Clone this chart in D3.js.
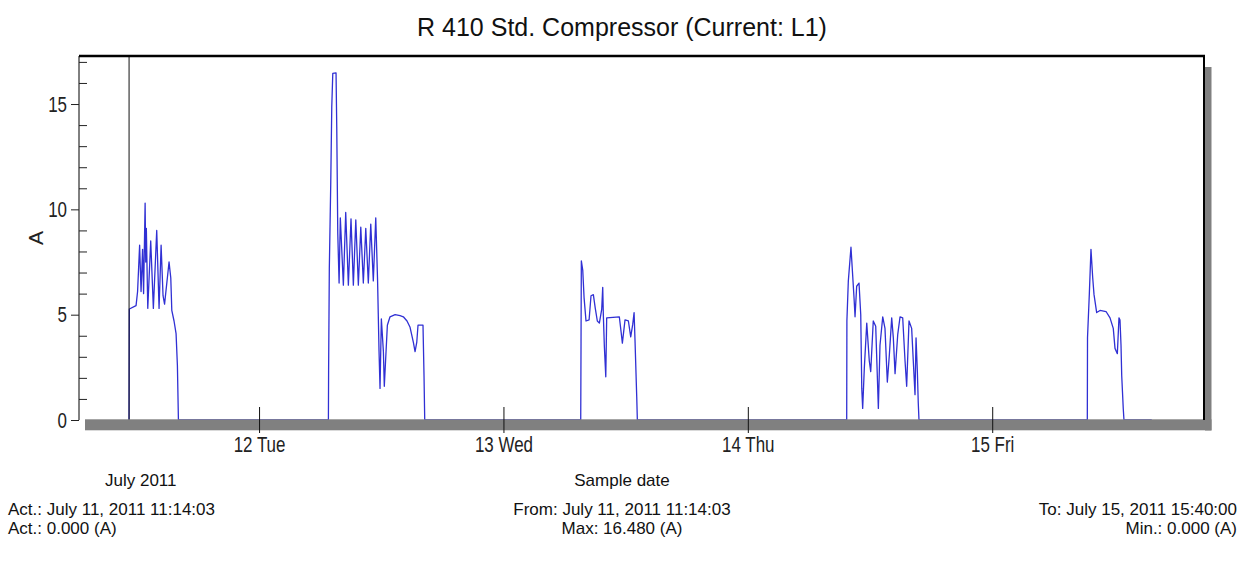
<!DOCTYPE html>
<html><head><meta charset="utf-8">
<script src="https://cdn.jsdelivr.net/npm/d3@7"></script>
<style>
body{margin:0;background:#fff;}
svg{display:block;}
</style></head><body>
<svg id="chart" width="1245" height="575"></svg>
<script>
// ---------- data ----------
const chartTitle = "R 410 Std. Compressor (Current: L1)";
const yAxisLabel = "A";
const originDate = "2011-07-11T00:00:00";       // sample hours counted from here
const xDomain = ["2011-07-11T06:19:00", "2011-07-15T20:48:00"];
const yDomain = [0, 17.28];
const cursorHour = 11.234;                         // July 11 11:14:03
const dayTicks = ["2011-07-12T00:00:00", "2011-07-13T00:00:00", "2011-07-14T00:00:00", "2011-07-15T00:00:00"];
const yMajorTicks = [0, 5, 10, 15];
const yMinorTicks = [1, 2, 3, 4, 6, 7, 8, 9, 11, 12, 13, 14, 16, 17];

// hours since July 11 2011 00:00
const sampleHours = [
  11.23, 11.26, 11.92, 12.07, 12.27, 12.41, 12.56, 12.66, 12.81, 12.87, 12.93, 13.07, 13.36, 13.62, 13.95,
  14.18, 14.38, 14.57, 14.72, 15.16, 15.33, 15.43, 15.65, 15.85, 15.98, 16.08,
  30.81, 30.83, 30.90, 31.04, 31.14, 31.24, 31.56, 31.63, 31.73, 31.86, 31.98, 32.28, 32.51, 32.77, 33.03,
  33.26, 33.50, 33.75, 33.99, 34.24, 34.48, 34.73, 34.97, 35.22, 35.46, 35.64, 35.78, 35.88, 36.01, 36.21,
  36.30, 36.60, 36.86, 37.36, 37.85, 38.17, 38.53, 38.83, 39.15, 39.32, 39.49, 39.61, 40.10, 40.20, 40.27,
  55.59, 55.62, 55.65, 55.79, 55.92, 56.11, 56.41, 56.60, 56.83, 57.02, 57.22, 57.42, 57.65, 57.75, 57.81,
  57.91, 58.05, 58.14, 59.38, 59.55, 59.68, 59.94, 60.27, 60.50, 60.70, 60.83, 60.92, 61.09, 61.15,
  81.71, 81.73, 81.87, 82.13, 82.43, 82.53, 82.69, 82.92, 83.09, 83.19, 83.28, 83.44, 83.68, 83.93, 84.07,
  84.32, 84.56, 84.82, 84.98, 85.25, 85.47, 85.70, 85.90, 86.13, 86.29, 86.46, 86.72, 86.95, 87.21, 87.44,
  87.60, 87.83, 88.09, 88.25, 88.42, 88.52, 88.65, 88.74, 88.81,
  105.34, 105.36, 105.54, 105.70, 105.87, 106.00, 106.26, 106.59, 107.18, 107.57, 107.89, 108.06, 108.29,
  108.45, 108.55, 108.65, 108.72, 108.87, 108.94,
  111.67
];
const currentA = [
  0, 5.27, 5.43, 6.1, 8.3, 6.1, 8.1, 6.0, 10.3, 7.5, 9.1, 5.3, 8.5, 5.3, 9.0,
  5.3, 8.3, 5.9, 5.5, 7.5, 6.75, 5.2, 4.7, 4.1, 2.6, 0,
  0, 2.34, 7.19, 11.23, 14.85, 16.45, 16.48, 13.91, 8.85, 6.5, 9.6, 6.4, 9.85, 6.4, 9.55,
  6.4, 9.5, 6.4, 9.15, 6.5, 9.1, 6.5, 9.3, 6.6, 9.6, 6.6, 3.3, 1.5, 4.8, 3.25,
  1.6, 4.5, 4.9, 5.0, 4.95, 4.9, 4.7, 4.4, 3.7, 3.25, 3.7, 4.5, 4.5, 2.1, 0,
  0, 3.7, 7.55, 7.1, 5.8, 4.7, 4.75, 5.9, 5.95, 5.3, 4.7, 4.6, 5.25, 6.3, 5.0,
  3.5, 2.05, 4.85, 4.9, 4.2, 3.65, 4.75, 4.7, 3.95, 4.55, 5.1, 3.8, 1.1, 0,
  0, 4.7, 6.6, 8.2, 5.8, 4.9, 6.35, 6.5, 5.0, 1.5, 0.55, 2.45, 4.6, 2.8, 2.3,
  4.7, 4.45, 0.55, 3.55, 4.9, 4.35, 1.8, 3.1, 4.85, 3.9, 2.2, 4.05, 4.9, 4.85, 2.8,
  1.6, 4.7, 4.35, 2.8, 1.2, 3.9, 2.3, 0.8, 0,
  0, 3.9, 6.0, 8.1, 6.75, 5.95, 5.1, 5.2, 5.15, 4.85, 4.35, 3.4, 3.15,
  4.85, 4.75, 3.55, 2.1, 0.55, 0,
  0
];

const footerXLabel = "July 2011";
const footerCenterLabel = "Sample date";
const footerLeft = ["Act.: July 11, 2011 11:14:03", "Act.: 0.000 (A)"];
const footerCenter = ["From: July 11, 2011 11:14:03", "Max: 16.480 (A)"];
const footerRight = ["To: July 15, 2011 15:40:00", "Min.: 0.000 (A)"];

// ---------- drawing ----------
const svg = d3.select("#chart");
const sans = "'Liberation Sans',Arial,Helvetica,sans-serif";
const narrowScale = 0.77;   // condensed look for axis tick labels

const plot = {left: 79, right: 1204, top: 56, bottom: 420};
const origin = new Date(originDate);
const toDate = h => new Date(origin.getTime() + h * 3600e3);

const x = d3.scaleTime().domain(xDomain.map(s => new Date(s))).range([plot.left, plot.right]);
const y = d3.scaleLinear().domain(yDomain).range([plot.bottom, plot.top]);

const data = sampleHours.map((h, i) => ({t: toDate(h), v: currentA[i]}));

// title
svg.append("text").attr("x", 622).attr("y", 36).attr("text-anchor", "middle")
  .style("font-family", sans).style("font-size", "25px").attr("fill", "#111").text(chartTitle);

// plot background
svg.append("rect").attr("x", plot.left).attr("y", plot.top)
  .attr("width", plot.right - plot.left).attr("height", plot.bottom - plot.top).attr("fill", "#fff");

// series line
const line = d3.line().x(d => x(d.t)).y(d => y(d.v));
svg.append("path").datum(data).attr("d", line)
  .attr("fill", "none").attr("stroke", "#3030d4").attr("stroke-width", 1.3).attr("stroke-linejoin", "round");

// cursor line
svg.append("line").attr("x1", x(toDate(cursorHour))).attr("x2", x(toDate(cursorHour)))
  .attr("y1", plot.top).attr("y2", plot.bottom).attr("stroke", "#111").attr("stroke-width", 1);

// shadows
svg.append("rect").attr("x", plot.right + 1).attr("y", 67).attr("width", 6.5).attr("height", 430.5 - 67).attr("fill", "#808080");
svg.append("rect").attr("x", 85).attr("y", plot.bottom - 0.7).attr("width", plot.right + 7.5 - 85).attr("height", 11).attr("fill", "#808080");

// frame: top & right
svg.append("line").attr("x1", plot.left).attr("x2", plot.right + 1).attr("y1", plot.top).attr("y2", plot.top)
  .attr("stroke", "#000").attr("stroke-width", 2.5);
svg.append("line").attr("x1", plot.right).attr("x2", plot.right).attr("y1", plot.top).attr("y2", plot.bottom)
  .attr("stroke", "#000").attr("stroke-width", 2);

// y axis
const yAxisMajor = d3.axisLeft(y).tickValues(yMajorTicks).tickSize(8).tickPadding(4).tickFormat(d3.format("d"));
const gy = svg.append("g").attr("transform", `translate(${plot.left},0)`).call(yAxisMajor);
gy.select(".domain").attr("stroke", "#000").attr("d", `M0,${plot.top}V${plot.bottom}`);
gy.selectAll(".tick line").attr("stroke", "#222");
gy.selectAll(".tick text").style("font-family", sans).style("font-size", "22px").attr("fill", "#222")
  .attr("x", -12 / narrowScale).attr("transform", `scale(${narrowScale},1)`);
const yAxisMinor = d3.axisRight(y).tickValues(yMinorTicks).tickSize(8).tickFormat("");
const gym = svg.append("g").attr("transform", `translate(${plot.left},0)`).call(yAxisMinor);
gym.select(".domain").remove();
gym.selectAll(".tick line").attr("stroke", "#222");

// y label
svg.append("text").attr("transform", `translate(43,${(plot.top + plot.bottom) / 2}) rotate(-90)`)
  .attr("text-anchor", "middle").style("font-family", sans).style("font-size", "21px").attr("fill", "#222").text(yAxisLabel);

// x axis
const xAxis = d3.axisBottom(x).tickValues(dayTicks.map(s => new Date(s)))
  .tickSizeInner(26).tickSizeOuter(0).tickPadding(3).tickFormat(d3.timeFormat("%-d %a"));
const gx = svg.append("g").attr("transform", `translate(0,407)`).call(xAxis);
gx.select(".domain").remove();
gx.selectAll(".tick line").attr("stroke", "#111");
gx.selectAll(".tick text").style("font-family", sans).style("font-size", "22px").attr("fill", "#222")
  .attr("transform", `scale(${narrowScale},1)`);

// footer
const ft = (txt, xx, yy, anchor) => svg.append("text").attr("x", xx).attr("y", yy).attr("text-anchor", anchor)
  .style("font-family", sans).style("font-size", "17px").attr("fill", "#111").text(txt);
ft(footerXLabel, 105, 486, "start");
ft(footerCenterLabel, 622, 486, "middle");
footerLeft.forEach((s, i) => ft(s, 8, 515 + i * 18.7, "start"));
footerCenter.forEach((s, i) => ft(s, 622, 515 + i * 18.7, "middle"));
footerRight.forEach((s, i) => ft(s, 1237, 515 + i * 18.7, "end"));
</script>
</body></html>
